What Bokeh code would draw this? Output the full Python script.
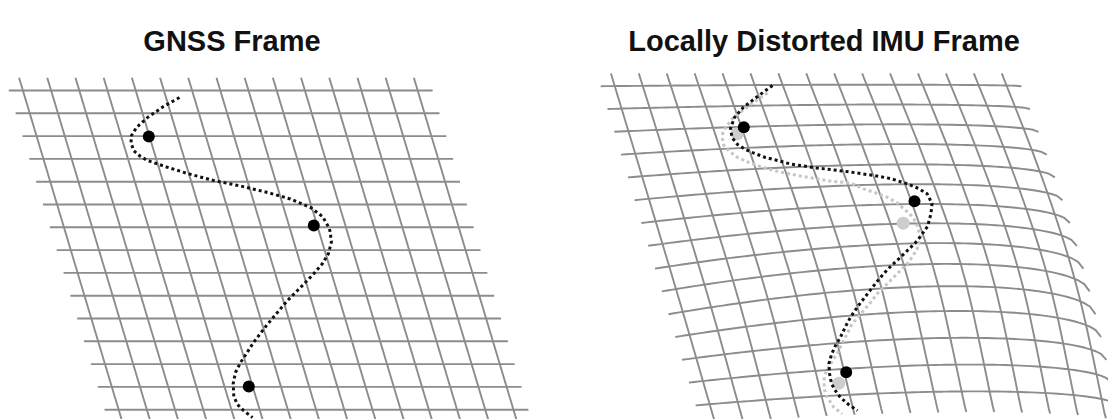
import numpy as np
from bokeh.plotting import figure
from bokeh.models import Range1d, ColumnDataSource, GlobalInlineStyleSheet
from bokeh.core.properties import value
from bokeh.embed import file_html
from bokeh.resources import INLINE

# ---------------- data ----------------
title_text = ["GNSS Frame", "Locally Distorted IMU Frame"]
title_x = [231.5, 823.5]
title_y = [40.0, 40.0]

# grid: 15 rows x 15 columns, sheared frames (pixel geometry of reference)
grid_rows = list(range(15))
grid_cols = list(range(15))
left_origin = [22.4, 90.0]
left_du = [28.2, 0.0]
left_dv = [6.84, 22.8]
right_origin = [614.2, 85.7]
right_du = [27.92, 0.0]
right_dv = [6.78, 22.8]

# local distortion of IMU frame: peak upward lift (px) per row index
lift_v = [-0.6, 0, 1, 2, 3, 4, 5, 6, 7, 8, 9, 10, 11, 12, 13, 14, 15]
lift_px = [0, 1.5, 4.5, 7.5, 10.5, 13, 16, 19, 22.5, 25.5, 27.5, 28, 26, 22, 18, 14, 11]
bulge_px = 9.0  # sideways bulge of columns

# GNSS trajectory (left)
gnss_x = [179, 163, 147, 136, 131, 130.5, 133, 140, 147, 166, 187, 213, 240, 267, 290,
          310, 322, 329, 331, 328, 322, 313, 300, 287, 276, 266, 253, 246, 240, 235,
          232.7, 233.3, 237, 243, 252]
gnss_y = [97, 106, 117, 127, 135, 142, 150, 156, 160, 166.5, 173, 180, 185.5, 192, 198.5,
          207, 216, 228, 241, 253, 263, 273.5, 287, 300, 313, 325, 342, 353, 362, 372,
          383, 396, 404, 410, 417]
gnss_pts_x = [148.3, 313.3, 248.3]
gnss_pts_y = [136.0, 225.0, 386.0]

# IMU trajectory (right, black)
imu_x = [772, 757, 743, 734, 730, 731.5, 737, 745, 753, 765, 777, 790, 803, 816, 830,
         846, 860, 873, 890, 906.7, 918, 926.7, 931.5, 930.5, 927, 917, 909, 900, 891,
         883, 875, 867, 858, 850, 845, 840, 835, 831, 828.5, 829, 831, 834, 840, 848, 857]
imu_y = [85, 96, 106.7, 117, 128, 137, 144, 149, 152.5, 157, 160, 163.5, 165.5, 167.5, 169,
         171, 173, 175, 178, 183.3, 188, 193.3, 203, 213, 226, 240, 248, 256.7, 265,
         273.3, 283, 293.3, 305, 316.7, 326, 336.7, 345, 354, 363, 373, 383, 389, 397, 404, 410]
imu_pts_x = [743.3, 914.0, 845.7]
imu_pts_y = [126.7, 200.7, 371.7]

# reference trajectory in IMU frame (right, gray)
ref_x = [767, 753.3, 740, 731, 726.7, 722.5, 721.7, 723.3, 729, 736.7, 746, 756.7, 770,
         783.3, 800, 816.7, 833, 850, 863, 874, 886.7, 896, 903.3, 909, 913.3, 917, 920,
         918.5, 916.7, 912, 906.7, 898, 890, 883, 876.7, 870, 863.3, 856, 850, 846.7,
         841, 836.7, 832, 828.3, 825, 823.3, 824, 826.7, 833.3, 841.7]
ref_y = [92.5, 101.7, 111.7, 119, 125, 131, 137, 145, 151, 156.7, 161, 165, 169,
         172.3, 175.5, 178.3, 181, 182.5, 188.3, 192, 196.7, 202, 208.3, 213, 218.3, 226, 236.7,
         242, 248.3, 256, 263.3, 272, 280, 287, 293.3, 302, 310, 318, 326, 333.3,
         344, 353.3, 360, 366.7, 373, 380, 389, 396.7, 406.7, 413.3]
ref_pts_x = [736.7, 902.7, 838.3]
ref_pts_y = [133.3, 222.7, 382.7]

# ---------------- helpers ----------------
def frame_xy(origin, du, dv, u, v, warp=False):
    u = np.asarray(u, float)
    v = np.asarray(v, float)
    x = origin[0] + u * du[0] + v * dv[0]
    y = origin[1] + u * du[1] + v * dv[1]
    if warp:
        s = np.clip((u + 0.5) / 15.0, 0, 1)
        f = s * np.sqrt(1 - s) / 0.3849
        y = y - np.interp(v, lift_v, lift_px) * f
        t = np.clip((v + 0.54) / 15.14, 0, 1)
        x = x + bulge_px * s * np.sin(np.pi * t)
    return x, y


def grid_lines(origin, du, dv, warp):
    xs, ys = [], []
    uu = np.linspace(-0.5, 14.53, 80)
    for r in grid_rows:
        x, y = frame_xy(origin, du, dv, uu, np.full_like(uu, r), warp)
        xs.append(list(x)); ys.append(list(y))
    vv = np.linspace(-0.56, 14.8, 80)
    for c in grid_cols:
        x, y = frame_xy(origin, du, dv, np.full_like(vv, c), vv, warp)
        xs.append(list(x)); ys.append(list(y))
    return xs, ys

# ---------------- figure ----------------
page_css = GlobalInlineStyleSheet(css="html, body { margin: 0; padding: 0; overflow: hidden; }")
p = figure(width=1108, height=419, x_range=Range1d(0, 1108), y_range=Range1d(419, 0),
           output_backend="svg", toolbar_location=None, min_border=0,
           x_axis_type=None, y_axis_type=None)
p.stylesheets = [page_css]
p.grid.visible = False
p.outline_line_color = None
p.background_fill_color = "white"

grid_color = "#8c8c8c"
lx, ly = grid_lines(left_origin, left_du, left_dv, False)
p.multi_line(lx, ly, line_color=grid_color, line_width=1.9)
rx, ry = grid_lines(right_origin, right_du, right_dv, True)
p.multi_line(rx, ry, line_color=grid_color, line_width=1.9)

# gray reference trajectory
p.line(ref_x, ref_y, line_color="#c6c6c6", line_width=3, line_dash="3 3")
p.scatter(ref_pts_x, ref_pts_y, size=13, fill_color="#cdcdcd", line_color=None)

# black trajectories
p.line(gnss_x, gnss_y, line_color="#111111", line_width=3, line_dash="3 3")
p.scatter(gnss_pts_x, gnss_pts_y, size=12, fill_color="#000000", line_color=None)
p.line(imu_x, imu_y, line_color="#111111", line_width=3, line_dash="3 3")
p.scatter(imu_pts_x, imu_pts_y, size=12, fill_color="#000000", line_color=None)

src = ColumnDataSource(dict(x=title_x, y=title_y, t=title_text))
p.text(x="x", y="y", text="t", source=src, text_align="center",
       text_baseline="alphabetic", text_font=value("Liberation Sans"),
       text_font_style="bold", text_font_size="29px", text_color="#111111")

open("out.html", "w").write(file_html(p, INLINE))
